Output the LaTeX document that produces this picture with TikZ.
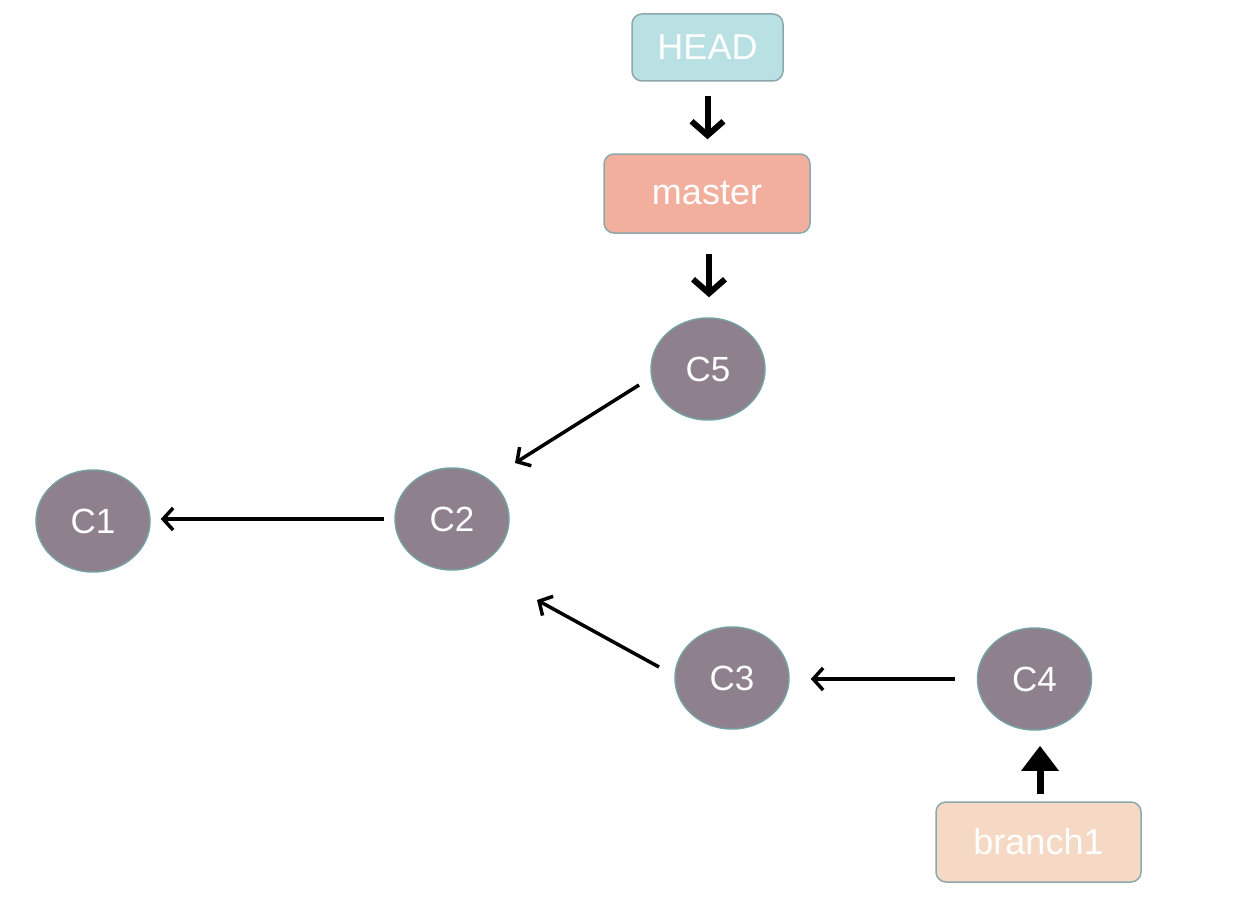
\documentclass[tikz,border=0pt]{standalone}
\usepackage{fontspec}
\setmainfont{Liberation Sans}
\usetikzlibrary{arrows.meta,shapes.geometric}
\definecolor{headfill}{RGB}{185,224,226}
\definecolor{masterfill}{RGB}{242,175,158}
\definecolor{branchfill}{RGB}{246,217,196}
\definecolor{commitfill}{RGB}{142,128,141}
\definecolor{boxline}{RGB}{140,168,170}
\definecolor{commitline}{RGB}{118,160,162}
\tikzset{
  label/.style={rectangle, rounded corners=10pt, draw=boxline, line width=1.5pt,
    text=white, font=\fontsize{36}{42}\selectfont, inner sep=0pt},
  commit/.style={ellipse, draw=commitline, line width=1.5pt, fill=commitfill,
    text=white, font=\fontsize{35}{42}\selectfont, inner sep=0pt,
    minimum width=114pt, minimum height=102pt},
  thickarr/.style={line width=6pt, -{Straight Barb[length=14pt,width=32pt,line width=6pt]}},
  thinarr/.style={line width=3.5pt, -{Straight Barb[length=10pt,width=22pt,line width=3.5pt]}},
  uparr/.style={line width=7pt, -{Triangle[length=25pt,width=36pt]}}
}
\begin{document}
\begin{tikzpicture}[x=1pt,y=-1pt]
\useasboundingbox (0,0) rectangle (1244,915);
\node[label, fill=headfill, minimum width=151pt, minimum height=67pt] (head) at (707.5,47.5) {HEAD};
\node[label, fill=masterfill, minimum width=206pt, minimum height=79pt] (master) at (707,193.5) {master};
\node[label, fill=branchfill, minimum width=205pt, minimum height=80pt] (branch) at (1038.5,842) {branch1};
\node[commit] (C5) at (708,369) {C5};
\node[commit] (C1) at (93,521) {C1};
\node[commit] (C2) at (452,519) {C2};
\node[commit] (C3) at (732,678) {C3};
\node[commit] (C4) at (1034.5,679) {C4};

\draw[thickarr, shorten <=14pt, shorten >=14pt] (head.south) -- (head.south |- master.north);
\draw[thickarr, shorten <=20pt, shorten >=20pt] ([xshift=2pt]master.south) -- ([xshift=2pt]master.south |- C5.north);
\draw[uparr, shorten <=7pt, shorten >=15pt] ([xshift=1.5pt]branch.north) -- ([xshift=1.5pt]branch.north |- C4.south);
\draw[thinarr] ([shift={(-69,16)}]C5.center) -- ([shift={(63,-56)}]C2.center);
\draw[thinarr, shorten <=10pt, shorten >=10pt] (C2.west) -- (C2.west -| C1.east);
\draw[thinarr] ([shift={(-73,-11)}]C3.center) -- ([shift={(85,81)}]C2.center);
\draw[thinarr, shorten <=22pt, shorten >=21pt] (C4.west) -- (C4.west -| C3.east);
\end{tikzpicture}
\end{document}
